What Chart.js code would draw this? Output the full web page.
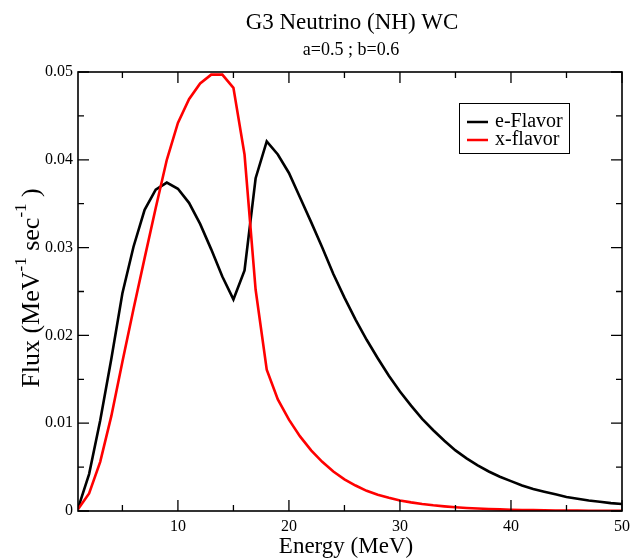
<!DOCTYPE html>
<html>
<head>
<meta charset="utf-8">
<script src="https://cdn.jsdelivr.net/npm/chart.js@4.4.0/dist/chart.umd.min.js"></script>
<style>
  html, body { margin: 0; padding: 0; background: #fff; }
  #wrap { width: 632px; height: 560px; }
</style>
</head>
<body>
<div id="wrap"><canvas id="fluxChart" width="632" height="560"></canvas></div>
<script>
// energies in MeV
const energy = [1,2,3,4,5,6,7,8,9,10,11,12,13,14,15,16,17,18,19,20,21,22,23,24,25,
  26,27,28,29,30,31,32,33,34,35,36,37,38,39,40,41,42,43,44,45,46,47,48,49,50];

const eFlavor = [0.0003,0.0042,0.0103,0.0173,0.0248,0.0301,0.0343,0.0366,0.0374,0.0367,
  0.0351,0.0327,0.0298,0.0267,0.0241,0.0274,0.0379,0.0421,0.0406,0.0385,
  0.0357,0.0329,0.0300,0.0270,0.0243,0.0218,0.0195,0.0174,0.0154,0.0136,
  0.0120,0.0105,0.0092,0.0080,0.0069,0.0060,0.0052,0.0045,0.0039,0.0034,
  0.0029,0.0025,0.0022,0.0019,0.0016,0.0014,0.0012,0.00105,0.0009,0.0008];

const xFlavor = [0.0002,0.0020,0.0056,0.0108,0.0170,0.0230,0.0288,0.0345,0.0400,0.0442,
  0.0469,0.0487,0.0497,0.0497,0.0482,0.0406,0.0252,0.0161,0.0127,0.0104,
  0.0085,0.0069,0.0056,0.0045,0.0036,0.0029,0.0023,0.00185,0.0015,0.0012,
  0.00098,0.0008,0.00065,0.00053,0.00043,0.00035,0.00028,0.00023,0.00018,0.00015,
  0.00012,0.0001,0.00008,0.00006,0.00005,0.00004,0.00003,0.00003,0.00002,0.00002];

const xMajor = [10,20,30,40,50];
const xMinor = [5,15,25,35,45];
const yMajor = [0,0.01,0.02,0.03,0.04,0.05];
const yMinor = [0.005,0.015,0.025,0.035,0.045];

const serif = '"Liberation Serif", "DejaVu Serif", serif';

function toPoints(ys) {
  return energy.map((e, i) => ({ x: e, y: ys[i] }));
}

const xmgrace = {
  id: 'xmgrace',
  afterDraw(chart) {
    const ctx = chart.ctx, a = chart.chartArea;
    const xs = chart.scales.x, ys = chart.scales.y;
    ctx.save();

    // inward tick marks on all four sides
    ctx.strokeStyle = '#000';
    ctx.lineWidth = 1.3;
    ctx.beginPath();
    function xt(v, len) {
      const p = xs.getPixelForValue(v);
      ctx.moveTo(p, a.bottom); ctx.lineTo(p, a.bottom - len);
      ctx.moveTo(p, a.top); ctx.lineTo(p, a.top + len);
    }
    function yt(v, len) {
      const p = ys.getPixelForValue(v);
      ctx.moveTo(a.left, p); ctx.lineTo(a.left + len, p);
      ctx.moveTo(a.right, p); ctx.lineTo(a.right - len, p);
    }
    xMajor.forEach(v => xt(v, 11));
    xMinor.forEach(v => xt(v, 6));
    yMajor.forEach(v => yt(v, 11));
    yMinor.forEach(v => yt(v, 6));
    ctx.stroke();

    // frame
    ctx.lineWidth = 1.6;
    ctx.strokeRect(a.left, a.top, a.right - a.left, a.bottom - a.top);

    // titles
    const cx = (a.left + a.right) / 2;
    ctx.fillStyle = '#000';
    ctx.textAlign = 'center';
    ctx.textBaseline = 'alphabetic';
    ctx.font = '23px ' + serif;
    ctx.fillText('G3 Neutrino (NH) WC', cx + 2, 29);
    ctx.font = '18px ' + serif;
    ctx.fillText('a=0.5 ; b=0.6', cx + 1, 55);

    // x axis title
    ctx.font = '23px ' + serif;
    ctx.fillText('Energy (MeV)', cx - 4, 553);

    // y axis title with superscripts
    const parts = [['Flux (MeV', false], ['-1', true], [' sec', false], ['-1', true], [' )', false]];
    let total = 0;
    parts.forEach(p => {
      ctx.font = (p[1] ? '17px ' : '26px ') + serif;
      total += ctx.measureText(p[0]).width;
    });
    ctx.translate(39, 288);
    ctx.rotate(-Math.PI / 2);
    ctx.textAlign = 'left';
    let px = -total / 2;
    parts.forEach(p => {
      ctx.font = (p[1] ? '17px ' : '26px ') + serif;
      ctx.fillText(p[0], px, p[1] ? -13 : 0);
      px += ctx.measureText(p[0]).width;
    });
    ctx.restore();

    // legend box
    ctx.save();
    ctx.strokeStyle = '#000';
    ctx.lineWidth = 1;
    ctx.fillStyle = '#fff';
    ctx.fillRect(459, 103, 110, 50);
    ctx.strokeRect(459.5, 103.5, 110, 50);
    ctx.font = '20px ' + serif;
    ctx.textBaseline = 'middle';
    ctx.textAlign = 'left';
    chart.data.datasets.forEach((ds, i) => {
      const y = 122 + i * 18;
      ctx.strokeStyle = ds.borderColor;
      ctx.lineWidth = 2.5;
      ctx.beginPath();
      ctx.moveTo(467, y); ctx.lineTo(488, y);
      ctx.stroke();
      ctx.fillStyle = '#000';
      ctx.fillText(ds.label, 495, y);
    });
    ctx.restore();
  }
};

new Chart(document.getElementById('fluxChart'), {
  type: 'line',
  data: {
    datasets: [
      { label: 'e-Flavor', data: toPoints(eFlavor), borderColor: '#000', borderWidth: 2.6,
        pointRadius: 0, tension: 0, fill: false, order: 1 },
      { label: 'x-flavor', data: toPoints(xFlavor), borderColor: '#ff0000', borderWidth: 2.6,
        pointRadius: 0, tension: 0, fill: false, order: 0 }
    ]
  },
  options: {
    responsive: false,
    animation: false,
    layout: { padding: { top: 72, right: 10, left: 0, bottom: 0 } },
    plugins: { legend: { display: false }, title: { display: false }, tooltip: { enabled: false } },
    scales: {
      x: {
        type: 'linear', min: 1, max: 50,
        afterBuildTicks: s => { s.ticks = xMajor.map(v => ({ value: v })); },
        afterFit: s => { s.height = 49; s.paddingLeft = 0; s.paddingRight = 0; },
        grid: { display: false, drawTicks: false },
        border: { display: false },
        ticks: { padding: 6, color: '#000', font: { family: serif, size: 16 }, maxRotation: 0 }
      },
      y: {
        min: 0, max: 0.05,
        afterBuildTicks: s => { s.ticks = yMajor.map(v => ({ value: v })); },
        afterFit: s => { s.width = 78; s.paddingTop = 0; s.paddingBottom = 0; },
        grid: { display: false, drawTicks: false },
        border: { display: false },
        ticks: {
          padding: 5, color: '#000', font: { family: serif, size: 16 },
          callback: v => v === 0 ? '0' : v.toFixed(2)
        }
      }
    }
  },
  plugins: [xmgrace]
});
</script>
</body>
</html>
